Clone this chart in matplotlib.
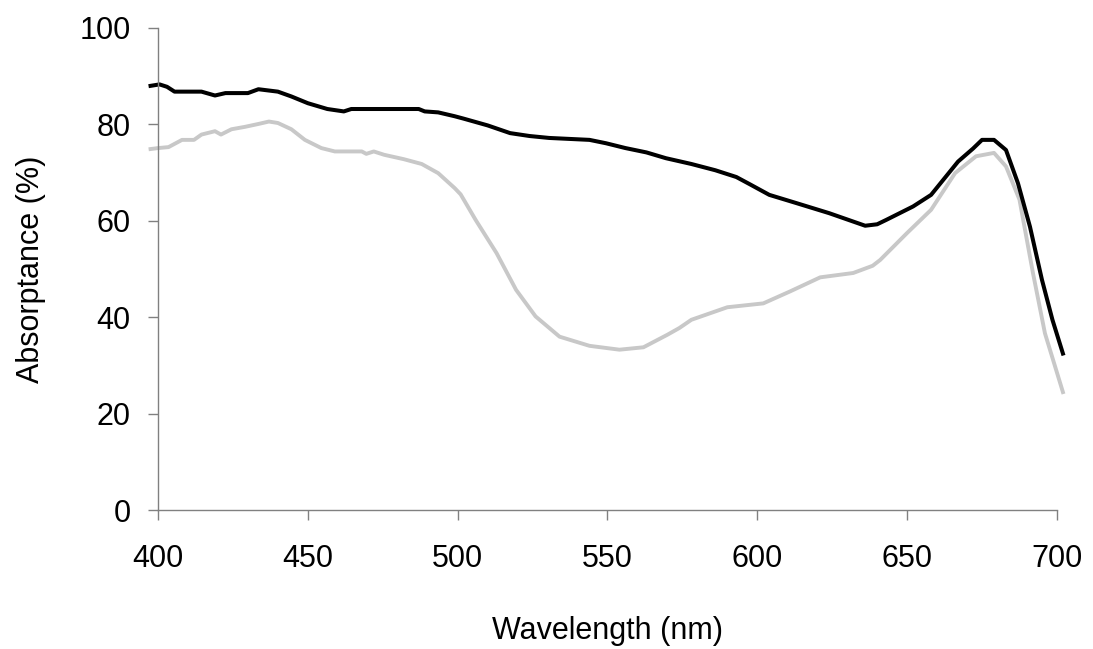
import matplotlib
matplotlib.use("Agg")
import matplotlib.pyplot as plt

plt.rcParams['font.family'] = ['Liberation Sans', 'DejaVu Sans']

# Black series
black_wl = [397.5, 400.5, 403, 405.5, 414.5, 419, 422.5, 430, 433.5, 440, 444.5, 450,
            456.5, 462, 464.5, 487, 489, 493.5, 499, 502, 510, 517.5, 524, 530.5, 544,
            549.5, 556, 563, 569.5, 578, 586, 593, 597.5, 604, 613, 624, 636, 640, 643,
            652, 658, 667, 672, 675, 679, 683, 687, 691, 695, 698.5, 702]
black_val = [88.0, 88.3, 87.8, 86.8, 86.8, 86.0, 86.5, 86.5, 87.3, 86.8, 85.8, 84.4,
             83.2, 82.7, 83.2, 83.2, 82.7, 82.5, 81.7, 81.2, 79.8, 78.2, 77.6, 77.2, 76.8,
             76.1, 75.1, 74.2, 73.0, 71.8, 70.5, 69.1, 67.6, 65.4, 63.7, 61.6, 59.0, 59.3, 60.2,
             63.0, 65.4, 72.3, 75.0, 76.8, 76.8, 74.7, 67.8, 58.8, 47.8, 39.5, 32.5]

# Grey series
grey_wl = [397.5, 400, 403.5, 408, 412, 414.5, 419, 421, 424.5, 429, 433.5, 437, 440,
           444.5, 449, 454.5, 459, 468, 469.5, 472, 475.5, 482, 488, 493.5, 499, 501, 506,
           513, 519.5, 526, 534, 544, 554, 562, 570, 574, 578, 590, 602, 611, 621, 632,
           638.5, 641, 650, 658, 666, 673, 679, 683, 687.5, 692, 696, 702]
grey_val = [74.9, 75.1, 75.3, 76.8, 76.8, 77.9, 78.6, 77.9, 79.0, 79.5, 80.1, 80.6, 80.3,
            79.0, 76.8, 75.1, 74.4, 74.4, 73.9, 74.4, 73.7, 72.8, 71.8, 69.9, 66.8, 65.5, 60.2,
            53.3, 45.7, 40.2, 36.0, 34.1, 33.3, 33.8, 36.4, 37.8, 39.5, 42.1, 42.9, 45.4, 48.3, 49.2,
            50.7, 51.9, 57.5, 62.3, 69.9, 73.4, 74.1, 71.3, 64.4, 49.2, 36.7, 24.5]

x_ticks = [400, 450, 500, 550, 600, 650, 700]
y_ticks = [0, 20, 40, 60, 80, 100]

fig = plt.figure(figsize=(10.93, 6.49), dpi=100)
ax = fig.add_axes([0.1446, 0.2137, 0.8224, 0.7432])

ax.plot(grey_wl, grey_val, color='#c8c8c8', lw=2.8, clip_on=False, solid_joinstyle='round')
ax.plot(black_wl, black_val, color='black', lw=2.9, clip_on=False, solid_joinstyle='round')

ax.set_xlim(400, 700)
ax.set_ylim(0, 100)
ax.set_xticks(x_ticks)
ax.set_yticks(y_ticks)

for s in ['top', 'right']:
    ax.spines[s].set_visible(False)
for s in ['left', 'bottom']:
    ax.spines[s].set_color('#808080')
    ax.spines[s].set_linewidth(1.0)

ax.tick_params(axis='both', direction='out', length=7.2, width=1.0, color='#808080',
               labelsize=22, labelcolor='black')
ax.tick_params(axis='x', pad=17)
ax.tick_params(axis='y', pad=12.5)

ax.set_xlabel('Wavelength (nm)', fontsize=22, labelpad=30)
ax.set_ylabel('Absorptance (%)', fontsize=22, labelpad=24)

fig.savefig('out.png', dpi=100)
